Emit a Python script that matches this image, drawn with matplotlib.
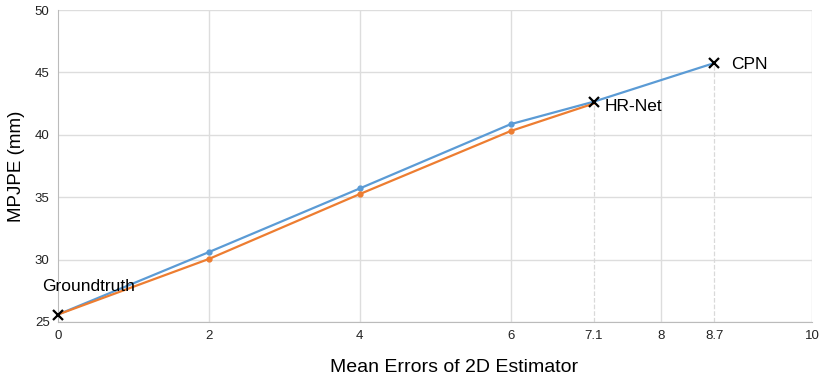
import matplotlib
matplotlib.use("Agg")
import matplotlib.pyplot as plt

plt.rcParams['font.family'] = ['Liberation Sans', 'DejaVu Sans']

# Mean errors of the 2D estimator and resulting MPJPE
x_blue = [0, 2, 4, 6, 7.1, 8.7]
y_blue = [25.6, 30.6, 35.7, 40.85, 42.65, 45.75]
x_orange = [0, 2, 4, 6, 7.1]
y_orange = [25.6, 30.05, 35.25, 40.3, 42.5]

# Named estimators
est_names = ['Groundtruth', 'HR-Net', 'CPN']
est_x = [0, 7.1, 8.7]
est_y = [25.6, 42.65, 45.75]

xticks = [0, 2, 4, 6, 7.1, 8, 8.7, 10]
xtick_labels = ['0', '2', '4', '6', '7.1', '8', '8.7', '10']
yticks = [25, 30, 35, 40, 45, 50]

blue = '#5b9bd5'
orange = '#ed7d31'

fig = plt.figure(figsize=(8.2, 3.79), dpi=100)
ax = fig.add_axes([0.0707, 0.1504, 0.9200, 0.8232])

ax.plot(x_blue, y_blue, color=blue, lw=1.6, zorder=3)
ax.plot(x_blue[1:4], y_blue[1:4], 'o', color=blue, ms=3.5, zorder=3)
ax.plot(x_orange, y_orange, color=orange, lw=1.6, zorder=3)
ax.plot(x_orange[1:4], y_orange[1:4], 'o', color=orange, ms=3.5, zorder=3)

# dashed guides for HR-Net and CPN
for xv, yv in zip(est_x[1:], est_y[1:]):
    ax.plot([xv, xv], [25, yv], color='#d9d9d9', lw=0.9, ls='--', zorder=1)

ax.plot(est_x, est_y, 'x', color='black', ms=7, mew=1.6, zorder=4, clip_on=False)
ax.text(-0.21, 27.85, est_names[0], fontsize=12.5, ha='left', va='center')
ax.text(7.25, 42.3, est_names[1], fontsize=12.5, ha='left', va='center')
ax.text(8.92, 45.6, est_names[2], fontsize=12.5, ha='left', va='center')

ax.set_xlim(0, 10)
ax.set_ylim(25, 50)
ax.set_xticks(xticks)
ax.set_xticklabels(xtick_labels)
ax.set_yticks(yticks)
ax.tick_params(length=0, labelsize=9.5, colors='#222222', pad=6)

ax.yaxis.grid(True, color='#dddddd', lw=1)
for v in [2, 4, 6, 8, 10]:
    ax.axvline(v, color='#dddddd', lw=1, zorder=0)
ax.set_axisbelow(True)

for s in ['top', 'right']:
    ax.spines[s].set_visible(False)
ax.spines['left'].set_color('#bbbbbb')
ax.spines['bottom'].set_color('#bbbbbb')

ax.set_ylabel('MPJPE (mm)', fontsize=13.5, labelpad=7)
ax.set_xlabel('Mean Errors of 2D Estimator', fontsize=14)
ax.xaxis.set_label_coords(0.525, -0.118)

fig.savefig('out.png', dpi=100)
